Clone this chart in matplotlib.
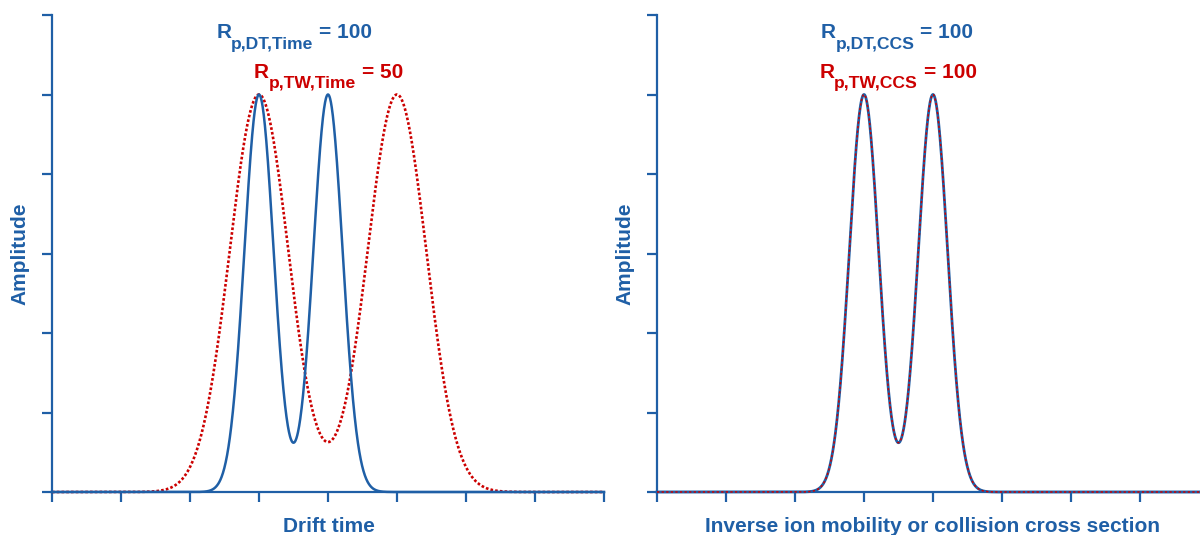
import numpy as np
import matplotlib
matplotlib.use("Agg")
import matplotlib.pyplot as plt

plt.rcParams['font.family'] = ['Liberation Sans', 'DejaVu Sans']

BLUE = '#1f5fa6'
RED = '#cc0000'

# Peak model parameters (x in tick units, amplitude in y-tick units)
peak_height = [5.0, 5.0]
dt_time_centers = [3.0, 4.0]
dt_time_sigma = [0.212, 0.212]
tw_time_centers = [3.0, 5.0]
tw_time_sigma = [0.425, 0.425]
dt_ccs_centers = [3.0, 4.0]
dt_ccs_sigma = [0.212, 0.212]
tw_ccs_centers = [3.0, 4.0]
tw_ccs_sigma = [0.212, 0.212]

left_xticks = [0, 1, 2, 3, 4, 5, 6, 7, 8]
right_xticks = [0, 1, 2, 3, 4, 5, 6, 7]
yticks = [0, 1, 2, 3, 4, 5, 6]

left_subs = ['p,DT,Time', 'p,TW,Time']
left_values = ['= 100', '= 50']
right_subs = ['p,DT,CCS', 'p,TW,CCS']
right_values = ['= 100', '= 100']


def trace(x, centers, sigmas, heights):
    y = np.zeros_like(x)
    for c, s, h in zip(centers, sigmas, heights):
        y += h * np.exp(-(x - c) ** 2 / (2 * s ** 2))
    return y


fig = plt.figure(figsize=(12, 5.35), dpi=100)
axL = fig.add_axes([52 / 1200, 43 / 535, 552 / 1200, 477 / 535])
axR = fig.add_axes([657 / 1200, 43 / 535, 543 / 1200, 477 / 535])


def style(ax, xmax, xticks, xlabel, xlab_x):
    width_px = fig.get_figwidth() * fig.dpi * ax.get_position().width
    height_px = fig.get_figheight() * fig.dpi * ax.get_position().height
    ax.set_xlim(0, xmax)
    ax.set_ylim(0, 6)
    ax.set_xticks(xticks)
    ax.set_yticks(yticks)
    ax.set_xticklabels([])
    ax.set_yticklabels([])
    for side in ['top', 'right']:
        ax.spines[side].set_visible(False)
    for side in ['left', 'bottom']:
        ax.spines[side].set_color(BLUE)
        ax.spines[side].set_linewidth(1.6)
    ax.tick_params(direction='out', length=7.5, width=1.6, color=BLUE)
    ax.set_xlabel(xlabel, fontsize=15, fontweight='bold', color=BLUE)
    ax.xaxis.label.set_va('baseline')
    ax.xaxis.set_label_coords(xlab_x, -40.0 / height_px)
    ax.set_ylabel('Amplitude', fontsize=15, fontweight='bold', color=BLUE)
    ax.yaxis.label.set_va('center')
    ax.yaxis.set_label_coords(-32.0 / width_px, 0.5)
    ax.patch.set_alpha(0)


def rlabel(ax, x, y, sub, value, color):
    t1 = ax.text(x, y, 'R', fontsize=15, fontweight='bold', color=color,
                 ha='left', va='baseline')
    t2 = ax.annotate(sub, xy=(1, 0), xycoords=t1, xytext=(0, -6.8),
                     textcoords='offset points', fontsize=12.6, fontweight='bold',
                     color=color, ha='left', va='bottom')
    ax.annotate(value, xy=(1, 0), xycoords=(t2, t1), xytext=(4.2, 0),
                textcoords='offset points', fontsize=15, fontweight='bold',
                color=color, ha='left', va='bottom')


xL = np.linspace(0, 8, 2000)
axL.plot(xL, trace(xL, dt_time_centers, dt_time_sigma, peak_height),
         color=BLUE, lw=1.8, clip_on=False, zorder=3)
axL.plot(xL, trace(xL, tw_time_centers, tw_time_sigma, peak_height),
         color=RED, lw=1.9, linestyle=(0, (1.0, 0.8)), clip_on=False, zorder=2)
style(axL, 8, left_xticks, 'Drift time', 0.501)

xR = np.linspace(0, 7.87, 2000)
axR.plot(xR, trace(xR, dt_ccs_centers, dt_ccs_sigma, peak_height),
         color=BLUE, lw=2.0, clip_on=False, zorder=2)
axR.plot(xR, trace(xR, tw_ccs_centers, tw_ccs_sigma, peak_height),
         color=RED, lw=1.1, linestyle=(0, (1.5, 1.5)), clip_on=False, zorder=3)
style(axR, 7.87, right_xticks, 'Inverse ion mobility or collision cross section', 0.508)

rlabel(axL, 2.38, 5.707, left_subs[0], left_values[0], BLUE)
rlabel(axL, 2.92, 5.211, left_subs[1], left_values[1], RED)
rlabel(axR, 2.37, 5.707, right_subs[0], right_values[0], BLUE)
rlabel(axR, 2.35, 5.211, right_subs[1], right_values[1], RED)

fig.savefig('out.png', dpi=100)
